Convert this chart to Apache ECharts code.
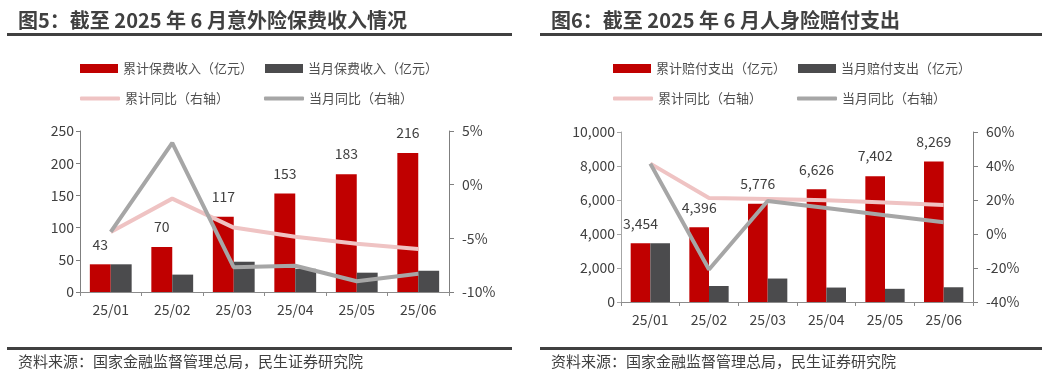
<!DOCTYPE html>
<html><head><meta charset="utf-8">
<script src="https://cdn.jsdelivr.net/npm/echarts@6/dist/echarts.min.js"></script>
<style>
html,body{margin:0;padding:0;background:#fff;}
#wrap{width:1048px;height:373px;position:relative;}
#c1{position:absolute;left:0;top:0;width:524px;height:373px;}
#c2{position:absolute;left:524px;top:0;width:524px;height:373px;}
</style></head>
<body><div id="wrap"><div id="c1"></div><div id="c2"></div></div>
<script>
const categories = ['25/01','25/02','25/03','25/04','25/05','25/06'];
// Chart 1: 意外险保费收入
const premiumCum = [43, 70, 117, 153, 183, 216];
const premiumMonth = [43, 27, 47, 36, 30, 33];
const premiumCumYoY = [-4.4, -1.3, -4.0, -4.85, -5.5, -6.0];
const premiumMonthYoY = [-4.4, 3.9, -7.7, -7.55, -9.0, -8.3];
// Chart 2: 人身险赔付支出
const claimCum = [3454, 4396, 5776, 6626, 7402, 8269];
const claimMonth = [3454, 942, 1380, 850, 776, 867];
const claimCumYoY = [41.4, 21.2, 20.6, 19.8, 18.6, 17.0];
const claimMonthYoY = [41.4, -20.9, 19.4, 15.3, 11.0, 6.9];

const title1 = '图5：截至 2025 年 6 月意外险保费收入情况';
const title2 = '图6：截至 2025 年 6 月人身险赔付支出';
const source = '资料来源：国家金融监督管理总局，民生证券研究院';

const FONT = '"Noto Sans CJK SC", "Noto Sans", sans-serif';
const TXT = '#404040';
const RED = '#C00000', DARK = '#4B4B4D', PINK = '#EFC3C3', GRAY = '#A6A6A6';

function build(cfg){
  const yLeftFmt = cfg.thousands ? (v => Number(v).toLocaleString('en-US')) : (v => v);
  return {
    animation:false,
    textStyle:{fontFamily:FONT},
    graphic:[
      {type:'text', left:cfg.titleX, top:10, style:{text:cfg.title, font:'bold 20px '+FONT, fill:TXT}},
      {type:'rect', shape:{x:cfg.lineX0, y:33, width:cfg.lineW, height:3}, style:{fill:'#404040'}},
      {type:'rect', shape:{x:cfg.lineX0, y:347, width:cfg.lineW, height:3}, style:{fill:'#404040'}},
      {type:'text', left:cfg.titleX, top:354, style:{text:source, font:'15px '+FONT, fill:TXT}}
    ],
    legend:[
      {left:cfg.legendX, top:62, padding:0, itemWidth:38, itemHeight:9, itemGap:12, icon:'rect',
       textStyle:{fontSize:13, color:'#505050', fontFamily:FONT},
       data:[cfg.names[0], cfg.names[1]]},
      {left:cfg.legendX, top:92, padding:0, itemWidth:40, itemHeight:4, itemGap:35, icon:'roundRect',
       textStyle:{fontSize:13, color:'#505050', fontFamily:FONT},
       data:[cfg.names[2], cfg.names[3]]}
    ],
    grid:{left:cfg.grid.left, right:cfg.grid.right, top:cfg.grid.top, bottom:cfg.grid.bottom},
    xAxis:{type:'category', data:categories, boundaryGap:true,
      axisLine:{lineStyle:{color:'#8c8c8c', width:1}},
      axisTick:{show:true, length:4, lineStyle:{color:'#8c8c8c'}},
      axisLabel:{color:TXT, fontSize:14, margin:11, fontFamily:FONT}},
    yAxis:[
      {type:'value', min:cfg.yl[0], max:cfg.yl[1], interval:cfg.yl[2],
       axisLine:{show:true, lineStyle:{color:cfg.leftAxisColor}},
       axisTick:{show:true, length:4, lineStyle:{color:cfg.leftAxisColor}},
       splitLine:{show:false},
       axisLabel:{color:TXT, fontSize:14, margin:6, formatter:yLeftFmt, fontFamily:FONT}},
      {type:'value', min:cfg.yr[0], max:cfg.yr[1], interval:cfg.yr[2], position:'right',
       axisLine:{show:true, lineStyle:{color:'#7f7f7f'}},
       axisTick:{show:true, length:5, lineStyle:{color:'#7f7f7f'}},
       splitLine:{show:false},
       axisLabel:{color:TXT, fontSize:14, margin:13, formatter:'{value}%', fontFamily:FONT}}
    ],
    series:[
      {name:cfg.names[0], type:'bar', data:cfg.d[0], barGap:'0%', barCategoryGap:cfg.gap,
       itemStyle:{color:RED},
       label:{show:true, position:'top', distance:13, color:TXT, fontSize:14, fontFamily:FONT,
         formatter:p => cfg.thousands ? p.value.toLocaleString('en-US') : p.value}},
      {name:cfg.names[1], type:'bar', data:cfg.d[1], itemStyle:{color:DARK}},
      {name:cfg.names[2], type:'line', yAxisIndex:1, data:cfg.d[2], symbol:'none', z:5,
       lineStyle:{color:PINK, width:4}, itemStyle:{color:PINK}},
      {name:cfg.names[3], type:'line', yAxisIndex:1, data:cfg.d[3], symbol:'none', z:6,
       lineStyle:{color:GRAY, width:4}, itemStyle:{color:GRAY}}
    ]
  };
}

const c1 = echarts.init(document.getElementById('c1'), null, {renderer:'canvas'});
c1.setOption(build({
  title:title1, titleX:18, lineX0:7, lineW:505, legendX:80,
  names:['累计保费收入（亿元）','当月保费收入（亿元）','累计同比（右轴）','当月同比（右轴）'],
  grid:{left:80, right:75, top:131, bottom:81},
  yl:[0,250,50], yr:[-10,5,5], thousands:false, gap:'32%', leftAxisColor:'#7f7f7f',
  d:[premiumCum, premiumMonth, premiumCumYoY, premiumMonthYoY]
}));
const c2 = echarts.init(document.getElementById('c2'), null, {renderer:'canvas'});
c2.setOption(build({
  title:title2, titleX:27, lineX0:16, lineW:502, legendX:89,
  names:['累计赔付支出（亿元）','当月赔付支出（亿元）','累计同比（右轴）','当月同比（右轴）'],
  grid:{left:97, right:75, top:132, bottom:71},
  yl:[0,10000,2000], yr:[-40,60,20], thousands:true, gap:'33%', leftAxisColor:'#a6a6a6',
  d:[claimCum, claimMonth, claimCumYoY, claimMonthYoY]
}));
</script></body></html>
